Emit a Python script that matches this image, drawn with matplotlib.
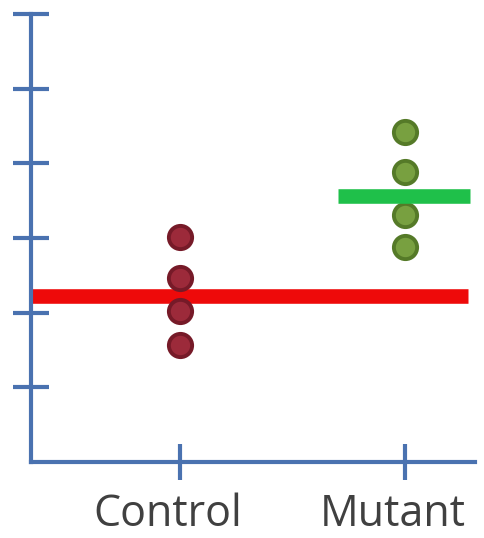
import matplotlib
matplotlib.use("Agg")
import matplotlib.pyplot as plt
import matplotlib.transforms as mtransforms
import numpy as np

# Measurements per group
groups = ["Control", "Mutant"]
control_values = [3.01, 2.46, 2.02, 1.57]
mutant_values = [4.42, 3.88, 3.31, 2.88]
control_mean = 2.22
mutant_mean = 3.56

axis_color = "#4a72b0"
fig = plt.figure(figsize=(4.85, 5.38), dpi=100)
ax = fig.add_axes([31 / 485, 76 / 538, 444 / 485, 448 / 538])

x_pos = np.arange(1, len(groups) + 1)

# Group means as thick horizontal bars
ax.hlines(control_mean, 0.338, 2.28, color="#ee0a0a", linewidth=10.5, zorder=2)
ax.hlines(mutant_mean, 1.70, 2.29, color="#1fc04a", linewidth=10.5, zorder=4)

# Individual observations
ax.scatter(np.full(len(control_values), x_pos[0]), control_values, s=280,
           facecolor="#9c2a3a", edgecolor="#761a28", linewidth=2.8, zorder=3)
ax.scatter(np.full(len(mutant_values), x_pos[1]), mutant_values, s=280,
           facecolor="#78a040", edgecolor="#557a28", linewidth=2.8, zorder=3)

ax.set_xlim(0.338, 2.31)
ax.set_ylim(0, 6)
ax.set_xticks(x_pos)
ax.set_xticklabels([])
ax.set_yticks([1, 2, 3, 4, 5, 6])
ax.set_yticklabels([])

for side in ("top", "right"):
    ax.spines[side].set_visible(False)
for side in ("left", "bottom"):
    ax.spines[side].set_color(axis_color)
    ax.spines[side].set_linewidth(3)
    ax.spines[side].set_capstyle("projecting")

ax.tick_params(axis="both", direction="inout", length=26, width=3, color=axis_color)

# Group names below the axis, baseline a fixed distance under it
label_tf = ax.get_xaxis_transform() + mtransforms.ScaledTranslation(
    -0.12, -0.64, fig.dpi_scale_trans)
for xp, name in zip(x_pos, groups):
    ax.text(xp, 0, name, transform=label_tf, ha="center", va="baseline",
            fontsize=31, color="#404040", family=["Open Sans", "DejaVu Sans"],
            clip_on=False)

fig.savefig("out.png", dpi=100)
